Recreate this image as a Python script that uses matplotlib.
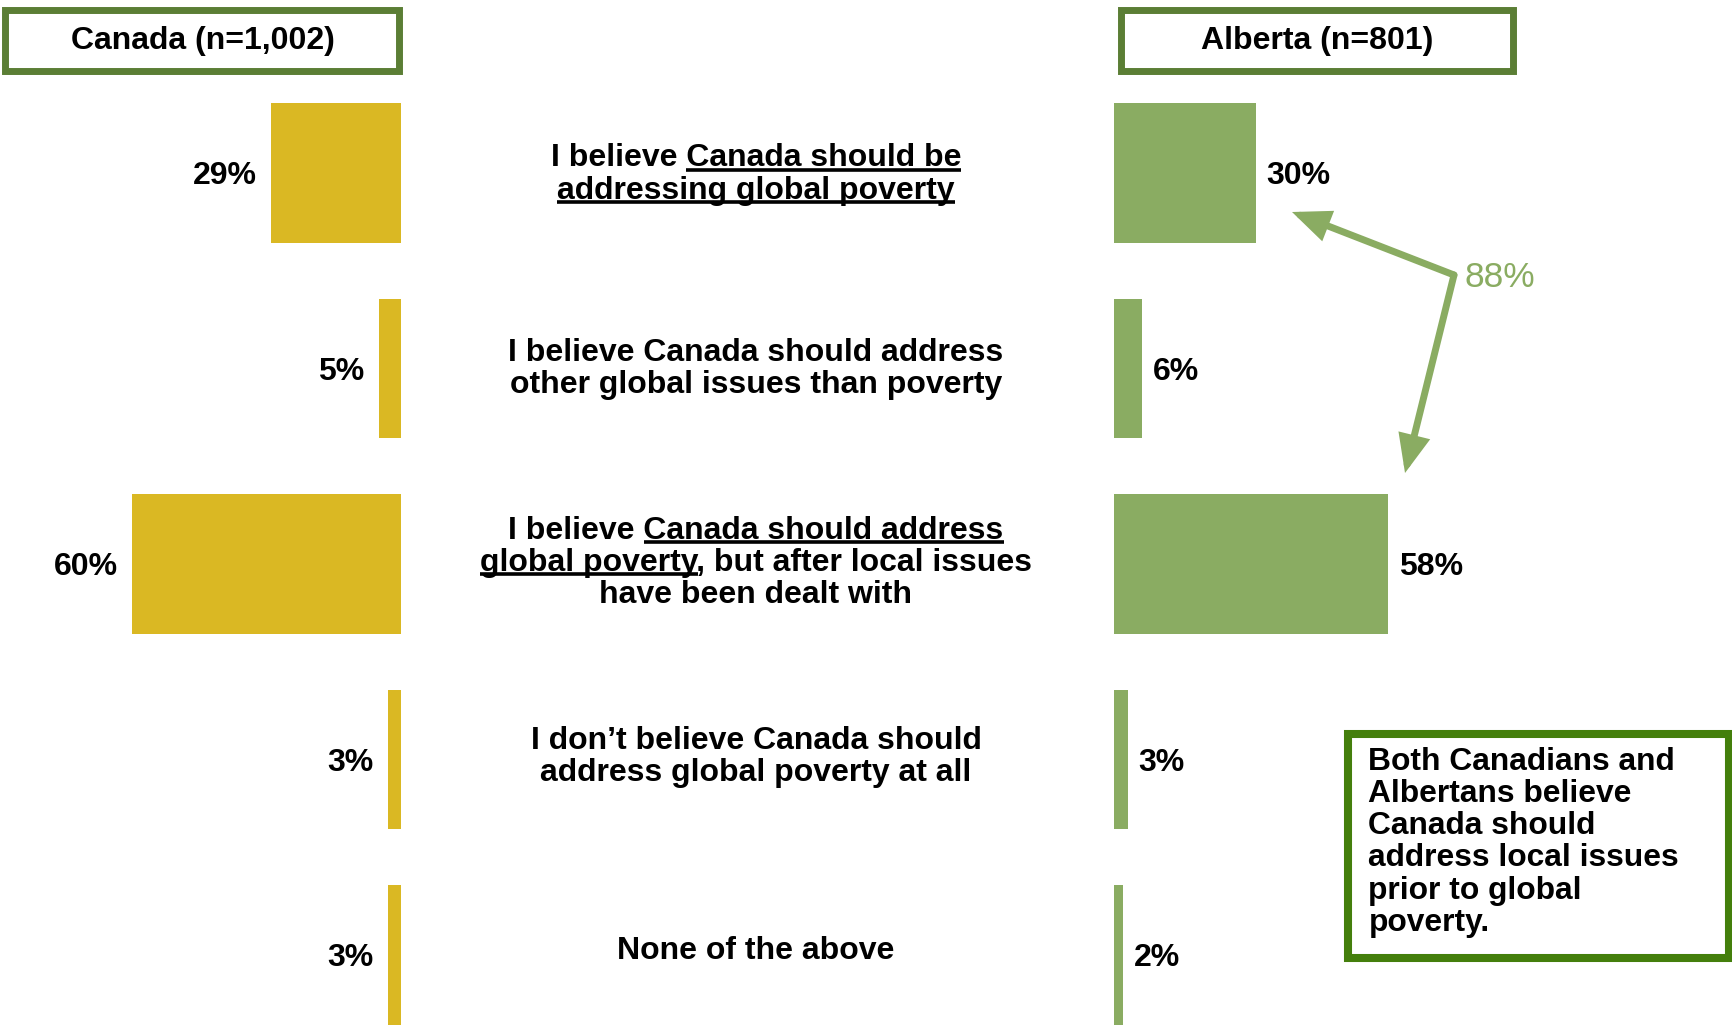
import matplotlib
matplotlib.use('Agg')
import matplotlib.pyplot as plt
from matplotlib.patches import Rectangle
from matplotlib.lines import Line2D
from matplotlib.font_manager import FontProperties

plt.rcParams['font.family'] = ['Liberation Sans', 'DejaVu Sans']

# survey data
canada = [29, 5, 60, 3, 3]
alberta = [30, 6, 58, 3, 2]
headers = ['Canada (n=1,002)', 'Alberta (n=801)']
answers = [
    ['I believe Canada should be', 'addressing global poverty'],
    ['I believe Canada should address', 'other global issues than poverty'],
    ['I believe Canada should address', 'global poverty, but after local issues', 'have been dealt with'],
    ['I don\u2019t believe Canada should', 'address global poverty at all'],
    ['None of the above'],
]
# (row, line) -> underlined part of that line
underlined = {
    (0, 0): 'Canada should be',
    (0, 1): 'addressing global poverty',
    (2, 0): 'Canada should address',
    (2, 1): 'global poverty',
}
combined = '88%'
note = ['Both Canadians and', 'Albertans believe', 'Canada should',
        'address local issues', 'prior to global', 'poverty.']

YELLOW = '#dab823'
GREEN = '#8aac62'
DARK = '#5b7e35'
BOXGREEN = '#447f0c'
W, H = 1733, 1029
FS = 23

fig = plt.figure(figsize=(W / 100, H / 100), dpi=100)

# row geometry (pixels)
row0, pitch, barh = 172.9, 195.5, 139.7
ytop = -row0 / pitch
ybot = (H - row0) / pitch
rows = list(range(len(canada)))

# left bars (Canada), growing to the left
axl = fig.add_axes([0, 0, 401 / W, 1])
axl.barh(rows, canada, height=barh / pitch, color=YELLOW)
axl.set_xlim(401 / 4.48, 0)
axl.set_ylim(ybot, ytop)
axl.axis('off')
for i, v in enumerate(canada):
    axl.annotate(f'{v}%', xy=(v, i), xytext=(-10, -8.2), textcoords='offset points',
                 ha='right', va='baseline', fontsize=FS, fontweight='bold')

# right bars (Alberta)
axr = fig.add_axes([1114 / W, 0, 1 - 1114 / W, 1])
axr.barh(rows, alberta, height=barh / pitch, color=GREEN)
axr.set_xlim(0, (W - 1114) / 4.73)
axr.set_ylim(ybot, ytop)
axr.axis('off')
for i, v in enumerate(alberta):
    axr.annotate(f'{v}%', xy=(v, i), xytext=(7.5, -8.2), textcoords='offset points',
                 ha='left', va='baseline', fontsize=FS, fontweight='bold')

# overlay in pixel coordinates for text, boxes and arrows
ax = fig.add_axes([0, 0, 1, 1])
ax.set_xlim(0, W)
ax.set_ylim(H, 0)
ax.axis('off')

# header boxes
for x0, x1, label in [(5.5, 399.5, headers[0]), (1121.5, 1513.5, headers[1])]:
    ax.add_patch(Rectangle((x0, 9.5), x1 - x0, 61, facecolor='white',
                           edgecolor=DARK, linewidth=5.0))
    ax.text((x0 + x1) / 2, 49, label, ha='center', va='baseline',
            fontsize=FS, fontweight='bold')

# answer texts with partial underlines
renderer = fig.canvas.get_renderer()
fp = FontProperties(family=['Liberation Sans', 'DejaVu Sans'], weight='bold', size=FS)
cx, lead = 756, 32
trow0, tpitch = 171.5, 194.2


def text_width(s):
    w, h, d = renderer.get_text_width_height_descent(s, fp, ismath=False)
    return w


for r, lines in enumerate(answers):
    yc = trow0 + r * tpitch
    n = len(lines)
    for k, line in enumerate(lines):
        base = yc + (k - (n - 1) / 2) * lead + 11
        ax.text(cx, base, line, ha='center', va='baseline', fontproperties=fp)
        sub = underlined.get((r, k))
        if sub:
            left = cx - text_width(line) / 2
            idx = line.index(sub)
            end = left + text_width(line[:idx + len(sub)])
            start = end - text_width(sub)
            ax.add_line(Line2D([start, end], [base + 3.5, base + 3.5],
                               color='black', linewidth=2.6, solid_capstyle='butt'))

# combined share arrows
vx, vy = 1454, 275
for tx, ty in [(1292, 212), (1405, 473)]:
    ax.annotate('', xy=(tx, ty), xytext=(vx, vy),
                arrowprops=dict(arrowstyle='-|>,head_length=19,head_width=8',
                                mutation_scale=1, color=GREEN, linewidth=5,
                                shrinkA=0, shrinkB=0, joinstyle='miter'))
ax.text(1465, 287, combined, ha='left', va='baseline', fontsize=25.5, color=GREEN)

# note box
ax.add_patch(Rectangle((1348, 734), 381, 224, facecolor='white',
                       edgecolor=BOXGREEN, linewidth=5.8))
for k, line in enumerate(note):
    ax.text(1368.5, 769.5 + k * 32.3, line, ha='left', va='baseline',
            fontsize=22.9, fontweight='bold')

fig.savefig('out.png', dpi=100)
